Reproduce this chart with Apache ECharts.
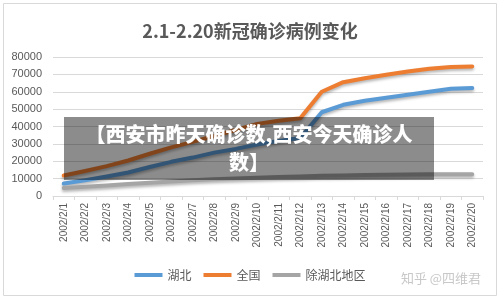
<!DOCTYPE html>
<html>
<head>
<meta charset="utf-8">
<script src="https://cdn.jsdelivr.net/npm/echarts@6/dist/echarts.min.js"></script>
<style>
  html, body { margin: 0; padding: 0; background: #fff; }
  #chart { width: 500px; height: 299px; }
</style>
</head>
<body>
<div id="chart"></div>
<script>
  // 日期 (原图标签就是 2002)
  var days = ['2002/2/1', '2002/2/2', '2002/2/3', '2002/2/4', '2002/2/5', '2002/2/6', '2002/2/7',
    '2002/2/8', '2002/2/9', '2002/2/10', '2002/2/11', '2002/2/12', '2002/2/13', '2002/2/14',
    '2002/2/15', '2002/2/16', '2002/2/17', '2002/2/18', '2002/2/19', '2002/2/20']
  var hubei = [7153, 9074, 11177, 13522, 16678, 19665, 22112, 24953, 27100, 29631,
    31728, 33366, 48206, 52500, 54800, 56600, 58300, 60000, 61700, 62100]
  var national = [11791, 14380, 17205, 20438, 24324, 28018, 31161, 34546, 38000, 41500,
    43300, 44700, 60000, 65500, 67800, 69800, 71600, 73200, 74200, 74600]
  var outsideHubei = [4638, 5306, 6028, 6916, 7646, 8353, 9049, 9593, 10098, 10540,
    10910, 11287, 11598, 11865, 12086, 12251, 12366, 12447, 12503, 12545]
  var seriesNames = ['湖北', '全国', '除湖北地区']
  var overlayLines = ['【西安市昨天确诊数,西安今天确诊人', '数】']

  var textColor = '#595959'
  var fontCJK = '"Noto Sans CJK SC", "Liberation Sans", sans-serif'

  function lineSeries (name, color, data) {
    return {
      name: name,
      type: 'line',
      data: data,
      symbol: 'none',
      smooth: false,
      lineStyle: {
        width: 4,
        color: color,
        cap: 'round',
        join: 'round',
        shadowBlur: 3,
        shadowColor: 'rgba(0,0,0,0.3)',
        shadowOffsetY: 2
      },
      itemStyle: { color: color }
    }
  }

  var chart = echarts.init(document.getElementById('chart'))
  var option = {
    animation: false,
    title: {
      text: '2.1-2.20新冠确诊病例变化',
      left: 'center',
      top: 17,
      textStyle: {
        color: textColor,
        fontSize: 18,
        fontWeight: 'bold',
        fontFamily: fontCJK
      }
    },
    legend: {
      data: seriesNames,
      left: 'center',
      bottom: 13,
      icon: 'rect',
      itemWidth: 28,
      itemHeight: 4,
      itemGap: 12,
      textStyle: { color: textColor, fontSize: 12, fontFamily: fontCJK }
    },
    grid: {
      left: 53,
      right: 17,
      top: 57,
      bottom: 103,
      containLabel: false
    },
    xAxis: {
      type: 'category',
      data: days,
      boundaryGap: true,
      axisLine: { lineStyle: { color: '#d9d9d9' } },
      axisTick: { show: true, length: 4, lineStyle: { color: '#d9d9d9' } },
      axisLabel: {
        rotate: 90,
        interval: 0,
        margin: 7,
        color: textColor,
        fontSize: 10,
        fontFamily: '"Liberation Sans", sans-serif'
      }
    },
    yAxis: {
      type: 'value',
      min: 0,
      max: 80000,
      interval: 10000,
      axisLine: { show: false },
      axisTick: { show: false },
      axisLabel: {
        margin: 11,
        color: textColor,
        fontSize: 11,
        fontFamily: '"Liberation Sans", sans-serif',
        formatter: function (v) { return String(v) }
      },
      splitLine: { lineStyle: { color: '#d9d9d9' } }
    },
    series: [
      lineSeries(seriesNames[0], '#5b9bd5', hubei),
      lineSeries(seriesNames[1], '#ed7d31', national),
      lineSeries(seriesNames[2], '#a5a5a5', outsideHubei)
    ],
    graphic: [
      {
        type: 'rect',
        z: 100,
        silent: true,
        shape: { x: 3.5, y: 3.5, width: 493, height: 292 },
        style: { fill: 'none', stroke: '#d9d9d9', lineWidth: 1 }
      },
      {
        type: 'rect',
        z: 100,
        silent: true,
        shape: { x: 64, y: 117, width: 370, height: 63 },
        style: { fill: 'rgba(0,0,0,0.45)' }
      },
      {
        type: 'text',
        z: 101,
        silent: true,
        x: 249,
        y: 134,
        style: {
          text: overlayLines[0],
          fill: '#fff',
          fontSize: 20,
          fontWeight: 900,
          fontFamily: fontCJK,
          align: 'center',
          verticalAlign: 'middle'
        }
      },
      {
        type: 'text',
        z: 101,
        silent: true,
        x: 249,
        y: 162,
        style: {
          text: overlayLines[1],
          fill: '#fff',
          fontSize: 20,
          fontWeight: 900,
          fontFamily: fontCJK,
          align: 'center',
          verticalAlign: 'middle'
        }
      },
      {
        type: 'text',
        z: 101,
        silent: true,
        x: 441,
        y: 278,
        style: {
          text: '知乎 @四维君',
          fill: '#c8c8c8',
          fontSize: 13,
          fontFamily: fontCJK,
          align: 'center',
          verticalAlign: 'middle'
        }
      }
    ]
  }
  chart.setOption(option)
</script>
</body>
</html>
